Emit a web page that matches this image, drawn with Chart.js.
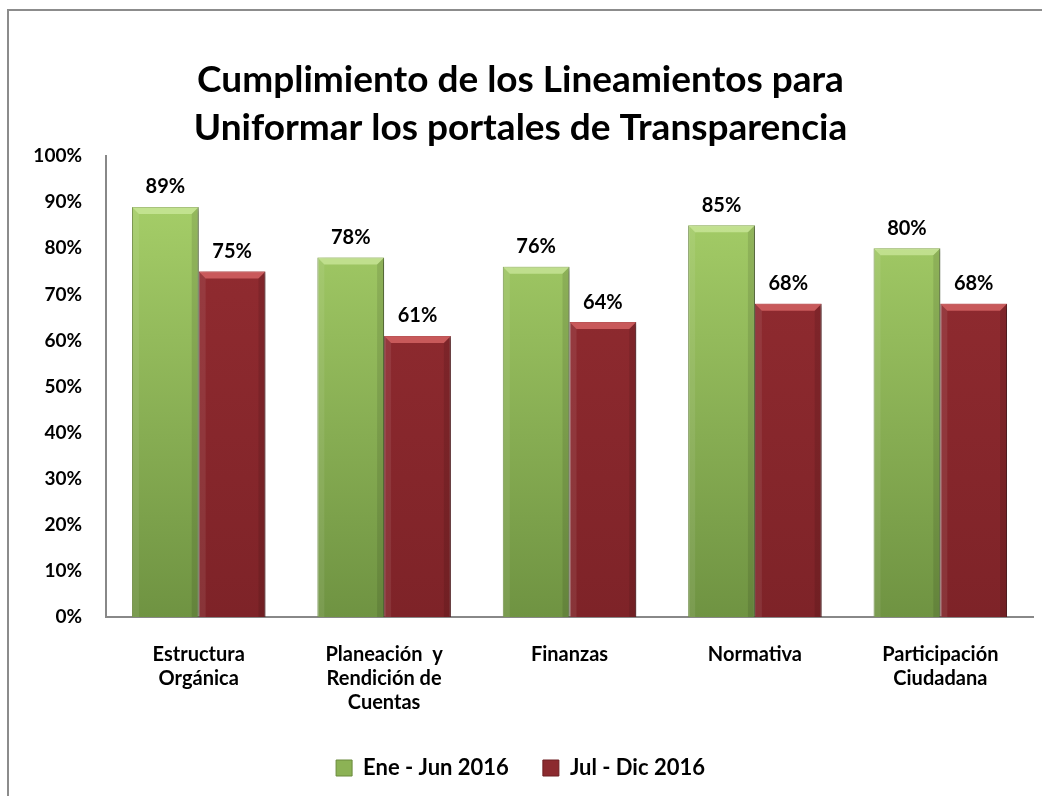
<!DOCTYPE html>
<html>
<head>
<meta charset="utf-8">
<script src="https://cdn.jsdelivr.net/npm/chart.js@4.4.1/dist/chart.umd.min.js"></script>
<style>
  html, body { margin: 0; padding: 0; background: #fff; }
  #wrap { position: relative; width: 1042px; height: 796px; }
  #frame { position: absolute; left: 7px; top: 9px; right: -2px; bottom: -2px;
           border-top: 2px solid #8c8c8c; border-left: 2px solid #8c8c8c; }
  canvas { position: absolute; left: 0; top: 0; }
</style>
</head>
<body>
<div id="wrap">
  <div id="frame"></div>
  <canvas id="myChart" width="1042" height="796"></canvas>
</div>
<script>
const categories = [
    ['Estructura', 'Orgánica'],
    ['Planeación  y', 'Rendición de', 'Cuentas'],
    'Finanzas',
    'Normativa',
    ['Participación', 'Ciudadana']
];
const seriesNames = ['Ene - Jun 2016', 'Jul - Dic 2016'];
const eneJun = [89, 78, 76, 85, 80];
const julDic = [75, 61, 64, 68, 68];
const yTicks = [0, 10, 20, 30, 40, 50, 60, 70, 80, 90, 100];

const FONT = 'Lato, Calibri, Carlito, sans-serif';

function gradFor(context, top, bottom) {
    const chart = context.chart;
    const area = chart.chartArea;
    if (!area) return bottom;
    const g = chart.ctx.createLinearGradient(0, area.top, 0, area.bottom);
    g.addColorStop(0, top);
    g.addColorStop(1, bottom);
    return g;
}

// bevel + shadow look, drawn on the library's bar elements
const bevelPlugin = {
    id: 'bevel',
    beforeDatasetDraw(chart) {
        const c = chart.ctx;
        c.save();
        c.shadowColor = 'rgba(0,0,0,0.35)';
        c.shadowBlur = 5;
        c.shadowOffsetX = 3;
        c.shadowOffsetY = 1;
    },
    afterDatasetDraw(chart, args) {
        const c = chart.ctx;
        c.restore();
        const meta = args.meta;
        const light = args.index === 0 ? 'rgba(215,240,170,0.6)' : 'rgba(225,110,110,0.7)';
        meta.data.forEach(bar => {
            const x0 = bar.x - bar.width / 2;
            const x1 = bar.x + bar.width / 2;
            const y0 = bar.y;
            const d = 7;
            c.save();
            c.fillStyle = light;
            c.beginPath();
            c.moveTo(x0, y0);
            c.lineTo(x1, y0);
            c.lineTo(x1 - d, y0 + d);
            c.lineTo(x0 + d, y0 + d);
            c.closePath();
            c.fill();
            c.fillStyle = 'rgba(0,0,0,0.10)';
            c.beginPath();
            c.moveTo(x1, y0);
            c.lineTo(x1, bar.base);
            c.lineTo(x1 - d, bar.base);
            c.lineTo(x1 - d, y0 + d);
            c.closePath();
            c.fill();
            c.fillStyle = 'rgba(255,255,255,0.08)';
            c.beginPath();
            c.moveTo(x0, y0);
            c.lineTo(x0 + d, y0 + d);
            c.lineTo(x0 + d, bar.base);
            c.lineTo(x0, bar.base);
            c.closePath();
            c.fill();
            c.restore();
        });
    }
};

const labelPlugin = {
    id: 'valueLabels',
    afterDatasetsDraw(chart) {
        const c = chart.ctx;
        c.save();
        c.font = 'bold 20px ' + FONT;
        c.fillStyle = '#000';
        c.textAlign = 'center';
        c.textBaseline = 'middle';
        chart.data.datasets.forEach((ds, i) => {
            chart.getDatasetMeta(i).data.forEach((bar, j) => {
                c.fillText(ds.data[j] + '%', bar.x, bar.y - 20);
            });
        });
        c.restore();
    }
};

const ctx = document.getElementById('myChart').getContext('2d');
const myChart = new Chart(ctx, {
    type: 'bar',
    data: {
        labels: categories,
        datasets: [{
            label: seriesNames[0],
            data: eneJun,
            backgroundColor: c => gradFor(c, '#abd46c', '#6f9342'),
            borderColor: '#6a8a3c',
            borderWidth: 1
        }, {
            label: seriesNames[1],
            data: julDic,
            backgroundColor: c => gradFor(c, '#952d32', '#7e2328'),
            borderColor: '#6e1e22',
            borderWidth: 1
        }]
    },
    plugins: [bevelPlugin, labelPlugin],
    options: {
        responsive: false,
        animation: false,
        layout: { padding: { top: 56, right: 9, bottom: 7, left: 8 } },
        datasets: {
            bar: { categoryPercentage: 0.72, barPercentage: 1.0 }
        },
        plugins: {
            title: {
                display: true,
                text: ['Cumplimiento de los Lineamientos para', 'Uniformar los portales de Transparencia'],
                color: '#000',
                font: { family: FONT, size: 37, weight: 'bold', lineHeight: 1.3 },
                padding: { top: 0, bottom: 4 }
            },
            legend: {
                position: 'bottom',
                labels: {
                    color: '#000',
                    font: { family: FONT, size: 22, weight: 'bold' },
                    boxWidth: 16,
                    boxHeight: 16,
                    padding: 34,
                    generateLabels(chart) {
                        return chart.data.datasets.map((ds, i) => ({
                            text: ds.label,
                            fillStyle: i === 0 ? '#8cb255' : '#8c2a2f',
                            strokeStyle: i === 0 ? '#6a8a3c' : '#6e1e22',
                            lineWidth: 1,
                            datasetIndex: i
                        }));
                    }
                }
            },
            tooltip: { enabled: false }
        },
        scales: {
            x: {
                afterFit(scale) { scale.height = 106; },
                grid: { display: false, drawTicks: false },
                border: { display: true, color: '#888888', width: 2 },
                ticks: {
                    color: '#000',
                    font: { family: FONT, size: 20, weight: 'bold', lineHeight: 1.2 },
                    padding: 26,
                    maxRotation: 0,
                    autoSkip: false
                }
            },
            y: {
                min: 0,
                max: 100,
                afterFit(scale) { scale.width = 98; },
                afterBuildTicks(scale) { scale.ticks = yTicks.map(v => ({ value: v })); },
                grid: { display: false, drawTicks: false },
                border: { display: true, color: '#888888', width: 2 },
                ticks: {
                    color: '#000',
                    font: { family: FONT, size: 19, weight: 'bold' },
                    padding: 24,
                    callback: v => v + '%'
                }
            }
        }
    }
});
</script>
</body>
</html>
